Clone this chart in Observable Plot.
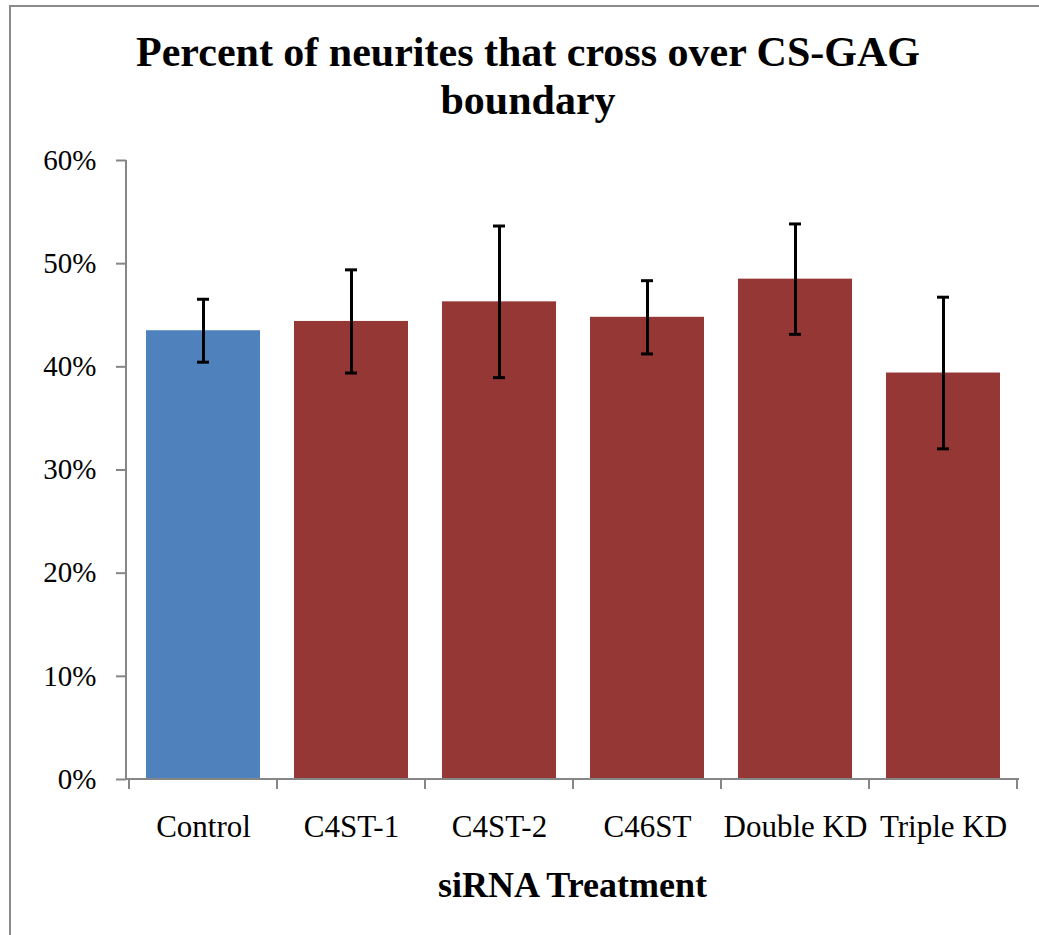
<!DOCTYPE html>
<html>
<head>
<meta charset="utf-8">
<script src="https://cdn.jsdelivr.net/npm/d3@7"></script>
<script src="https://cdn.jsdelivr.net/npm/@observablehq/plot@0.6"></script>
<style>
  html, body { margin: 0; padding: 0; background: #fff; }
  #wrap { position: relative; width: 1039px; height: 935px; overflow: hidden; background: #fff; font-family: "Liberation Serif", "Times New Roman", serif; }
  #frame { position: absolute; left: 9px; top: 5px; width: 1100px; height: 1000px; border-left: 2px solid #8a8a8a; border-top: 2px solid #8a8a8a; box-sizing: border-box; }
  #title { position: absolute; left: 28px; width: 1000px; top: 28px; text-align: center; font-weight: bold; font-size: 42px; line-height: 48px; color: #000; }
  #xtitle { position: absolute; left: 126px; width: 893px; top: 867px; text-align: center; font-weight: bold; font-size: 36px; line-height: 36px; color: #000; }
  #chart { position: absolute; left: 0; top: 140px; }
  #chart svg, #chart svg text { font-family: "Liberation Serif", "Times New Roman", serif !important; }
</style>
</head>
<body>
<div id="wrap">
  <div id="frame"></div>
  <div id="title">Percent of neurites that cross over CS-GAG<br>boundary</div>
  <div id="chart"></div>
  <div id="xtitle">siRNA Treatment</div>
</div>
<script>
const categories = ["Control", "C4ST-1", "C4ST-2", "C46ST", "Double KD", "Triple KD"];
const values = [43.5, 44.4, 46.3, 44.8, 48.5, 39.4];
const errors = [3.05, 5.0, 7.35, 3.55, 5.35, 7.35];
const barColors = ["#4f81bd", "#953735", "#953735", "#953735", "#953735", "#953735"];
const yTicks = [0, 10, 20, 30, 40, 50, 60];

const data = categories.map((c, i) => ({
  cat: c, value: values[i], lo: values[i] - errors[i], hi: values[i] + errors[i], color: barColors[i]
}));

const axisGray = "#868686";
const serif = "Liberation Serif";

// custom mark: axis lines and category-boundary ticks, using Plot's scales
function axesFrame(index, scales, values, dims) {
  const g = d3.create("svg:g");
  const x = scales.x, y = scales.y;
  const step = x.step ? x.step() : x.bandwidth();
  const left = dims.marginLeft, right = dims.width - dims.marginRight;
  const y0 = y(0), yTop = y(60);
  g.append("line").attr("x1", left).attr("x2", left).attr("y1", yTop).attr("y2", y0)
    .attr("stroke", axisGray).attr("stroke-width", 2);
  g.append("line").attr("x1", left).attr("x2", right).attr("y1", y0).attr("y2", y0)
    .attr("stroke", axisGray).attr("stroke-width", 2);
  const bounds = categories.map(c => x(c) + x.bandwidth() / 2 - step / 2);
  bounds.push(x(categories[categories.length - 1]) + x.bandwidth() / 2 + step / 2);
  for (const bx of bounds) {
    g.append("line").attr("x1", bx).attr("x2", bx).attr("y1", y0).attr("y2", y0 + 10)
      .attr("stroke", axisGray).attr("stroke-width", 2);
  }
  return g.node();
}

const chart = Plot.plot({
  width: 1039,
  height: 795,
  marginLeft: 126,
  marginRight: 20,
  marginTop: 20,
  marginBottom: 156,
  style: { fontFamily: serif, color: "#000", background: "transparent" },
  x: { domain: categories, paddingInner: 0.23, paddingOuter: 0.115, axis: null },
  y: { domain: [0, 60], axis: null },
  color: { type: "identity" },
  marks: [
    Plot.barY(data, { x: "cat", y: "value", fill: "color" }),
    Plot.ruleX(data, { x: "cat", y1: "lo", y2: "hi", stroke: "#000", strokeWidth: 3 }),
    Plot.tickY(data, { x: "cat", y: "hi", stroke: "#000", strokeWidth: 3, insetLeft: 51, insetRight: 51 }),
    Plot.tickY(data, { x: "cat", y: "lo", stroke: "#000", strokeWidth: 3, insetLeft: 51, insetRight: 51 }),
    Plot.axisY({ ticks: yTicks, tickFormat: d => d + "%", tickSize: 10, tickPadding: 20, fontSize: 29, fontFamily: serif, stroke: axisGray, strokeWidth: 2, fill: "#000", label: null }),
    Plot.axisX({ tickSize: 0, tickPadding: 35, fontSize: 31, fontFamily: serif, fill: "#000", label: null }),
    axesFrame
  ]
});
document.getElementById("chart").appendChild(chart);
</script>
</body>
</html>
